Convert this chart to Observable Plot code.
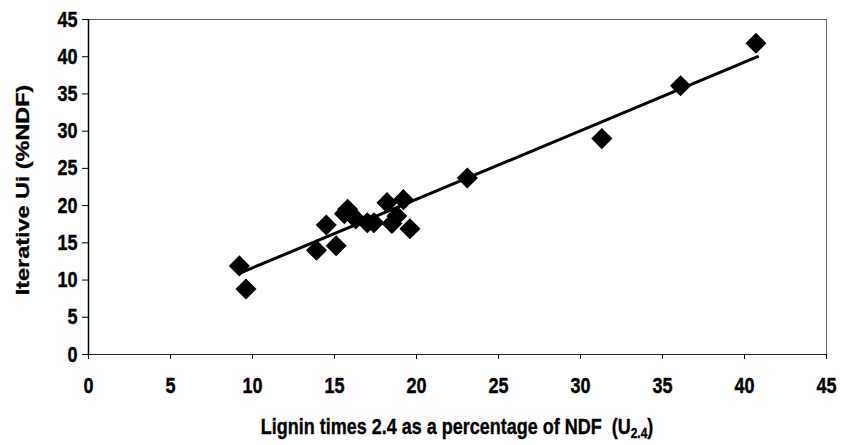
<!DOCTYPE html>
<html>
<head>
<meta charset="utf-8">
<script src="https://cdn.jsdelivr.net/npm/d3@7"></script>
<script src="https://cdn.jsdelivr.net/npm/@observablehq/plot@0.6"></script>
<style>
  html, body { margin: 0; padding: 0; background: #fff; }
  svg { display: block; }
</style>
</head>
<body>
<div id="chart"></div>
<script>
// Scatter data: lignin x 2.4 (%NDF) vs iterative Ui (%NDF)
const ligninU24 = [9.2, 9.6, 13.9, 14.5, 15.1, 15.6, 15.8, 16.3, 17.0, 17.4, 18.2, 18.5, 18.8, 19.2, 19.6, 23.1, 31.3, 36.1, 40.7];
const iterativeUi = [11.9, 8.8, 14.0, 17.4, 14.6, 18.9, 19.5, 18.2, 17.7, 17.7, 20.4, 17.6, 18.6, 20.8, 16.9, 23.7, 29.0, 36.1, 41.8];

// Fitted trend line as drawn in the figure
const trendX = [9.2, 40.8];
const trendY = [10.9, 40.0];

const xTicks = [0, 5, 10, 15, 20, 25, 30, 35, 40, 45];
const yTicks = [0, 5, 10, 15, 20, 25, 30, 35, 40, 45];

const xTitle = "Lignin times 2.4 as a percentage of NDF  (U";
const xTitleSub = "2.4";
const yTitle = "Iterative Ui (%NDF)";

const points = ligninU24.map((x, i) => ({x, y: iterativeUi[i]}));
const trend = trendX.map((x, i) => ({x, y: trendY[i]}));

const font = "'Liberation Sans', Arial, Helvetica, sans-serif";

const chart = Plot.plot({
  width: 842,
  height: 445,
  marginLeft: 88,
  marginRight: 16,
  marginTop: 19,
  marginBottom: 91,
  style: {fontFamily: font, background: "#fff", color: "#000"},
  x: {domain: [0, 45]},
  y: {domain: [0, 45]},
  marks: [
    Plot.frame({stroke: "#666", strokeWidth: 1}),
    Plot.ruleX([0], {stroke: "#000", strokeWidth: 1.5}),
    Plot.ruleY([0], {stroke: "#222", strokeWidth: 1.2}),
    Plot.axisX({ticks: xTicks, tickSize: 5, tickPadding: 19, fontSize: 18, fontWeight: "bold", label: null, tickFormat: d => String(d)}),
    Plot.axisY({ticks: yTicks, tickSize: 6, tickPadding: 5, fontSize: 18, fontWeight: "bold", label: null, tickFormat: d => String(d)}),
    Plot.line(trend, {x: "x", y: "y", stroke: "#000", strokeWidth: 3}),
    Plot.dot(points, {x: "x", y: "y", symbol: "diamond2", r: 9.5, fill: "#000", stroke: "none"})
  ]
});

document.getElementById("chart").appendChild(chart);
const svg = d3.select(chart);

// Stretch tick labels vertically, as in the (vertically stretched) original scan
svg.selectAll('g[aria-label="x-axis tick label"] text, g[aria-label="y-axis tick label"] text').each(function() {
  const b = this.getBBox();
  const c = b.y + b.height / 2;
  const t = this.getAttribute("transform") || "";
  this.setAttribute("transform", `${t} translate(0,${c}) scale(1,1.22) translate(0,${-c})`);
  this.setAttribute("stroke", "#000");
  this.setAttribute("stroke-width", "0.35");
});

// X axis title with subscript
const xt = svg.append("text")
  .attr("transform", "translate(457,434) scale(1,1.2)")
  .attr("text-anchor", "middle")
  .attr("font-family", font)
  .attr("font-weight", "bold")
  .attr("font-size", 18)
  .attr("fill", "#000")
  .attr("stroke", "#000")
  .attr("stroke-width", 0.3)
  .style("white-space", "pre");
xt.append("tspan").text(xTitle);
xt.append("tspan").attr("font-size", 12).attr("dy", 3).text(xTitleSub);
xt.append("tspan").attr("dy", -3).text(")");

// Y axis title
svg.append("text")
  .attr("transform", "translate(29,190) scale(1,1.3) rotate(-90)")
  .attr("text-anchor", "middle")
  .attr("font-family", font)
  .attr("font-weight", "bold")
  .attr("font-size", 18)
  .attr("fill", "#000")
  .attr("stroke", "#000")
  .attr("stroke-width", 0.3)
  .text(yTitle);
</script>
</body>
</html>
